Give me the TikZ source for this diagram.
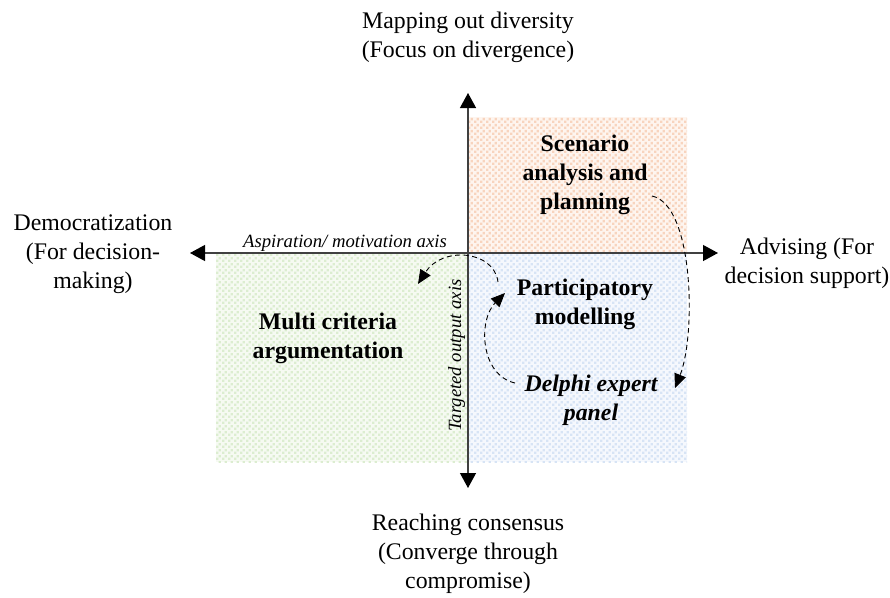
\documentclass[tikz,border=0pt]{standalone}
\usepackage{fontspec}
\setmainfont{Liberation Serif}
\usetikzlibrary{arrows.meta,patterns.meta}
\definecolor{orBg}{HTML}{FEF5EF}
\definecolor{orDot}{HTML}{F8D4BE}
\definecolor{blBg}{HTML}{F5F8FD}
\definecolor{blDot}{HTML}{D7E4F5}
\definecolor{grBg}{HTML}{F6FAF2}
\definecolor{grDot}{HTML}{DCEDD0}
\definecolor{axGray}{HTML}{404040}
\tikzdeclarepattern{
  name=chk,
  type=uncolored,
  bounding box={(0pt,0pt) and (6pt,6pt)},
  tile size={(6pt,6pt)},
  code={
    \fill (0pt,0pt) rectangle (2.8pt,2.8pt);
    \fill (3pt,3pt) rectangle (5.8pt,5.8pt);
  }
}
\begin{document}
\begin{tikzpicture}[x=1pt,y=-1pt,
  lbl/.style={align=center, anchor=north, inner sep=0pt,
    font=\fontsize{23.8}{29}\selectfont,
    execute at begin node={\rule{0pt}{17.85pt}}},
  blbl/.style={lbl, font=\fontsize{23.8}{29}\selectfont\bfseries},
  bilbl/.style={lbl, font=\fontsize{23.8}{29}\selectfont\bfseries\itshape},
  axlbl/.style={inner sep=0pt, anchor=base, font=\fontsize{18.7}{22}\selectfont\itshape},
  axisline/.style={draw=axGray, line width=1.2pt,
    {Triangle[length=15pt,width=16pt,color=black]}-{Triangle[length=15pt,width=16pt,color=black]}},
  dflow/.style={draw=black, line width=0.9pt, dash pattern=on 5pt off 3.5pt,
    -{Triangle[length=14pt,width=12pt]}},
  quad/.style={pattern=chk}
]
\useasboundingbox (0,0) rectangle (890,597);

% quadrants
\fill[orBg] (468,117) rectangle (687,253);
\fill[quad, pattern color=orDot] (468,117) rectangle (687,253);
\fill[blBg] (468,253) rectangle (687,462);
\fill[quad, pattern color=blDot] (468,253) rectangle (687,462);
\fill[grBg] (216,253) rectangle (468,462);
\fill[quad, pattern color=grDot] (216,253) rectangle (468,462);

% axes
\coordinate (axL) at (190,253);
\coordinate (axR) at (718,253);
\coordinate (axT) at (468,93);
\coordinate (axB) at (468,488);
\draw[axisline] (axL) -- (axR);
\draw[axisline] (axB) -- (axT);

% outer labels
\node[lbl] (top) at (468,11.5) {Mapping out diversity\\(Focus on divergence)};
\node[lbl] (left) at (93,215) {Democratization\\(For decision-\\making)};
\node[lbl] (right) at (807,238) {Advising (For\\decision support)};
\node[lbl] (bottom) at (468,514) {Reaching consensus\\(Converge through\\compromise)};

% quadrant labels
\node[blbl] (scen) at (585,135) {Scenario\\analysis and\\planning};
\node[blbl] (part) at (585,279) {Participatory\\modelling};
\node[blbl] (multi) at (328,313) {Multi criteria\\argumentation};
\node[bilbl] (delphi) at (591,375) {Delphi expert\\panel};

% axis labels
\node[axlbl] (asp) at (345,247) {Aspiration/ motivation axis};
\node[axlbl, rotate=90] (tgt) at (461,355.6) {Targeted output axis};

% dashed arrows
\coordinate (a1s) at (652,196);
\coordinate (a1e) at (675,388);
\coordinate (a2s) at (515,383);
\coordinate (a2e) at (505,293);
\coordinate (a3s) at (498,282);
\coordinate (a3e) at (418,284);
\draw[dflow] (a1s) .. controls (694,205) and (696,335) .. (a1e);
\draw[dflow] (a2s) .. controls (480,375) and (478,320) .. (a2e);
\draw[dflow] (a3s) .. controls (494,250) and (442,246) .. (a3e);
\end{tikzpicture}
\end{document}
